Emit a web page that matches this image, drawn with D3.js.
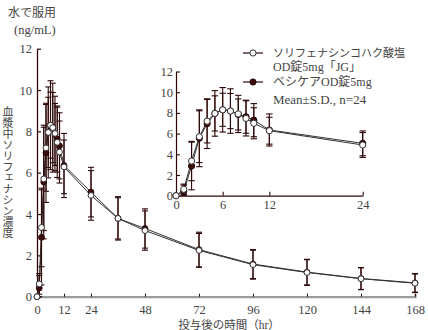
<!DOCTYPE html>
<html>
<head>
<meta charset="utf-8">
<script src="https://cdn.jsdelivr.net/npm/d3@7"></script>
<style>
  html, body { margin: 0; padding: 0; background: #fff; }
  svg { display: block; }
  text { font-family: "Liberation Serif", "DejaVu Serif", "Noto Sans CJK JP", serif; fill: #444; }
  .jp { font-family: "Liberation Serif", "Noto Sans CJK JP", sans-serif; }
</style>
</head>
<body>
<svg id="chart" width="428" height="330"></svg>
<script>
// Sampling times (hr)
const times = [0, 1, 2, 3, 4, 5, 6, 7, 8, 9, 10, 12, 24, 36, 48, 72, 96, 120, 144, 168];

// ソリフェナシンコハク酸塩OD錠5mg「JG」 (mean, SD), ng/mL
const testMean = [0, 0.62, 3.35, 5.7, 7.2, 7.95, 8.3, 8.18, 7.9, 7.47, 7.0, 6.28, 4.9, 3.79, 3.2, 2.24, 1.55, 1.17, 0.87, 0.65];
const testSD   = [0, 0.5, 1.9, 2.5, 2.1, 2.2, 2.15, 2.15, 1.8, 1.7, 1.5, 1.3, 1.2, 1.0, 0.95, 0.82, 0.7, 0.62, 0.53, 0.45];

// ベシケアOD錠5mg (mean, SD), ng/mL
const refMean = [0, 0.42, 2.87, 5.55, 6.96, 7.95, 8.3, 8.18, 7.85, 7.63, 7.3, 6.35, 5.06, 3.79, 3.3, 2.28, 1.58, 1.19, 0.88, 0.67];
const refSD   = [0, 0.6, 2.3, 2.75, 2.4, 1.7, 1.6, 1.7, 1.5, 1.6, 1.6, 1.55, 1.2, 1.05, 0.95, 0.84, 0.7, 0.62, 0.53, 0.45];

// Axis ticks
const mainXTicks = [0, 12, 24, 48, 72, 96, 120, 144, 168];
const mainYTicks = [0, 2, 4, 6, 8, 10, 12];
const insetXTicks = [0, 6, 12, 24];
const insetYTicks = [0, 2, 4, 6, 8, 10, 12];

const legendLabels = [
  ["ソリフェナシンコハク酸塩", "OD錠5mg「JG」"],
  ["ベシケアOD錠5mg"]
];
const noteText = "Mean±S.D., n=24";

const svg = d3.select("#chart");
const dark = "#2e0808";
const lineCol = "#333";

const test = times.map((t, i) => ({ t, m: testMean[i], sd: testSD[i] }));
const ref = times.map((t, i) => ({ t, m: refMean[i], sd: refSD[i] }));

function panel(g, x, y, opts) {
  const series = [
    { data: ref, filled: true },
    { data: test, filled: false }
  ].map(s => ({ ...s, data: s.data.filter(d => d.t <= x.domain()[1]) }));

  const line = d3.line().x(d => x(d.t)).y(d => y(d.m));

  // connecting lines
  series.forEach(s => {
    g.append("path").datum(s.data)
      .attr("d", line).attr("fill", "none")
      .attr("stroke", lineCol).attr("stroke-width", 1);
  });

  // error bars
  const cap = opts.cap;
  series.forEach(s => {
    const eb = g.append("g").attr("stroke", dark).attr("stroke-width", 1.1).attr("fill", "none");
    s.data.filter(d => d.sd > 0).forEach(d => {
      const hi = y(d.m + d.sd), lo = y(Math.max(0, d.m - d.sd));
      const cx = x(d.t);
      eb.append("line").attr("x1", cx).attr("x2", cx).attr("y1", hi).attr("y2", lo);
      eb.append("line").attr("x1", cx - cap).attr("x2", cx + cap).attr("y1", hi).attr("y2", hi);
      eb.append("line").attr("x1", cx - cap).attr("x2", cx + cap).attr("y1", lo).attr("y2", lo);
    });
  });

  // markers
  series.forEach(s => {
    g.append("g").selectAll("circle").data(s.data).join("circle")
      .attr("cx", d => x(d.t)).attr("cy", d => y(d.m)).attr("r", opts.r)
      .attr("fill", s.filled ? "#3a0c0c" : "#fff")
      .attr("stroke", s.filled ? "#2a0606" : "#333").attr("stroke-width", 1);
  });
}

// ---- main panel ----
const xMain = d3.scaleLinear().domain([0, 168]).range([37, 415]);
const yMain = d3.scaleLinear().domain([0, 12]).range([296.7, 48.7]);

const gMain = svg.append("g");

// x axis (grey baseline, inward ticks)
const xAxisMain = gMain.append("g").attr("transform", `translate(0,${yMain(0)})`)
  .call(d3.axisBottom(xMain).tickValues(mainXTicks).tickSize(-3).tickPadding(8));
xAxisMain.select(".domain").attr("stroke", "#9a9a9a").attr("stroke-width", 2.2);
xAxisMain.selectAll(".tick line").attr("stroke", dark);
xAxisMain.selectAll(".tick text").attr("font-size", 12.5).attr("fill", "#444")
  .attr("font-family", "Liberation Serif, serif");

const yAxisMain = gMain.append("g").attr("transform", `translate(${xMain(0)},0)`)
  .call(d3.axisLeft(yMain).tickValues(mainYTicks).tickSize(-4).tickPadding(5).tickSizeOuter(0));
yAxisMain.select(".domain").attr("stroke", dark).attr("stroke-width", 1.3);
yAxisMain.selectAll(".tick line").attr("stroke", dark).attr("stroke-width", 1.2);
yAxisMain.selectAll(".tick text").attr("font-size", 12.5).attr("fill", "#444")
  .attr("font-family", "Liberation Serif, serif");

panel(gMain, xMain, yMain, { r: 2.9, cap: 3 });

// ---- inset panel ----
const xIn = d3.scaleLinear().domain([0, 24]).range([176, 362.7]);
const yIn = d3.scaleLinear().domain([0, 12]).range([195.7, 71.5]);
const gIn = svg.append("g");

const xAxisIn = gIn.append("g").attr("transform", `translate(0,${yIn(0)})`)
  .call(d3.axisBottom(xIn).tickValues(insetXTicks).tickSize(-4).tickPadding(4).tickSizeOuter(0));
xAxisIn.select(".domain").attr("stroke", dark).attr("stroke-width", 1.2);
xAxisIn.selectAll(".tick line").attr("stroke", dark).attr("stroke-width", 1.1);
xAxisIn.selectAll(".tick text").attr("font-size", 12.5).attr("fill", "#444")
  .attr("font-family", "Liberation Serif, serif");

const yAxisIn = gIn.append("g").attr("transform", `translate(${xIn(0)},0)`)
  .call(d3.axisLeft(yIn).tickValues(insetYTicks).tickSize(-4).tickPadding(3).tickSizeOuter(0));
yAxisIn.select(".domain").attr("stroke", dark).attr("stroke-width", 1.2);
yAxisIn.selectAll(".tick line").attr("stroke", dark).attr("stroke-width", 1.1);
yAxisIn.selectAll(".tick text").attr("font-size", 12.5).attr("fill", "#444")
  .attr("font-family", "Liberation Serif, serif");

panel(gIn, xIn, yIn, { r: 3.1, cap: 3.2 });

// ---- legend ----
const lg = svg.append("g");
const legendRows = [
  { y: 53, filled: false, lines: legendLabels[0], sizes: [11, 12] },
  { y: 82, filled: true, lines: legendLabels[1], sizes: [12] }
];
legendRows.forEach(r => {
  lg.append("line").attr("x1", 243).attr("x2", 263).attr("y1", r.y).attr("y2", r.y)
    .attr("stroke", dark).attr("stroke-width", 1.2);
  lg.append("circle").attr("cx", 253).attr("cy", r.y).attr("r", 3.1)
    .attr("fill", r.filled ? "#3a0c0c" : "#fff").attr("stroke", r.filled ? "#2a0606" : "#333");
  r.lines.forEach((txt, i) => {
    lg.append("text").attr("class", "jp").attr("x", 273).attr("y", r.y + 4 + i * 14)
      .attr("font-size", r.sizes[i]).text(txt);
  });
});
lg.append("text").attr("x", 273).attr("y", 103.5).attr("font-size", 13).text(noteText);

// ---- titles ----
svg.append("text").attr("class", "jp").attr("x", 8).attr("y", 17).attr("font-size", 12).text("水で服用");
svg.append("text").attr("x", 14).attr("y", 34).attr("font-size", 12.5).text("(ng/mL)");

svg.append("text").attr("class", "jp")
  .attr("x", 7).attr("y", 106)
  .attr("font-size", 11)
  .style("writing-mode", "vertical-rl")
  .style("text-orientation", "upright")
  .text("血漿中ソリフェナシン濃度");

svg.append("text").attr("class", "jp").attr("x", 229).attr("y", 329)
  .attr("text-anchor", "middle").attr("font-size", 11.5)
  .text("投与後の時間（hr）");
</script>
</body>
</html>
